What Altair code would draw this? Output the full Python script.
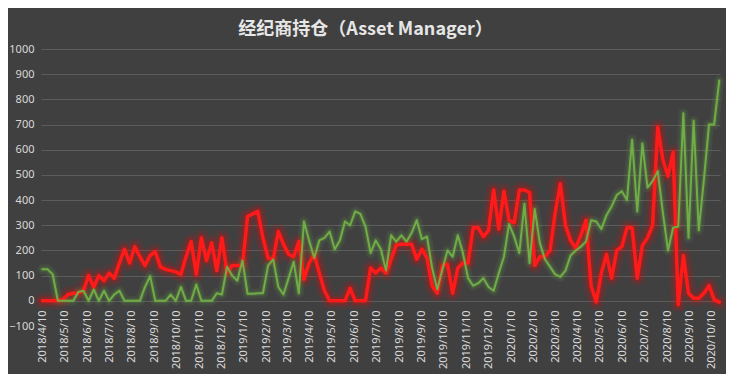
import altair as alt
import pandas as pd

# weekly dates (CFTC reports, Tuesdays)
start_date = "2018-04-10"
n_weeks = 133

red_values = [
    0, 0, 0, 0, 5, 25, 30, 30, 40, 100,
    55, 100, 80, 110, 90, 150, 205, 150, 215, 175,
    140, 180, 195, 135, 125, 120, 115, 105, 175, 235,
    105, 250, 160, 230, 120, 250, 110, 140, 140, 140,
    335, 345, 355, 250, 170, 165, 275, 225, 185, 175,
    235, 85, 150, 185, 110, 40, 0, 0, 0, 0,
    50, 0, 0, 0, 130, 110, 130, 110, 165, 222,
    225, 225, 225, 165, 205, 170, 60, 30, 140, 145,
    30, 130, 150, 150, 290, 290, 255, 280, 440, 285,
    435, 320, 310, 440, 440, 430, 140, 175, 175, 200,
    350, 465, 300, 240, 210, 260, 320, 60, -5, 110,
    185, 90, 200, 215, 290, 290, 90, 220, 250, 300,
    690, 560, 495, 590, -15, 180, 30, 10, 10, 30,
    60, 5, -5,
]

green_values = [
    125, 125, 105, 0, 0, 0, 0, 35, 40, 0,
    45, 0, 40, 0, 25, 40, 0, 0, 0, 0,
    55, 98, 0, 0, 0, 25, 0, 55, 0, 0,
    65, 0, 0, 0, 30, 25, 135, 100, 80, 160,
    28, 28, 30, 30, 140, 165, 55, 25, 90, 155,
    30, 315, 240, 170, 240, 250, 275, 205, 240, 315,
    300, 355, 345, 295, 190, 240, 205, 120, 260, 235,
    260, 235, 270, 320, 245, 255, 130, 45, 125, 200,
    175, 260, 190, 90, 60, 70, 90, 55, 40, 110,
    175, 305, 255, 190, 385, 150, 365, 230, 165, 135,
    105, 95, 120, 180, 200, 215, 235, 320, 315, 285,
    340, 375, 420, 435, 400, 640, 355, 625, 450, 475,
    515, 350, 200, 290, 295, 745, 250, 715, 280, 480,
    700, 700, 875,
]

y_ticks = [-100, 0, 100, 200, 300, 400, 500, 600, 700, 800, 900, 1000]
title_text = "经纪商持仓（Asset Manager）"

dates = pd.date_range(start_date, periods=n_weeks, freq="7D")
date_str = [d.strftime("%Y/%m/%d 00:00") for d in dates]

rows = []
for d, v in zip(date_str, red_values):
    rows.append({"date": d, "value": v, "series": "red"})
for d, v in zip(date_str, green_values):
    rows.append({"date": d, "value": v, "series": "green"})
df = pd.DataFrame(rows)

# month ticks on the 10th
tick_dates = pd.date_range("2018-04-01", "2020-10-01", freq="MS") + pd.Timedelta(days=9)
x_ticks = [alt.DateTime(year=d.year, month=d.month, date=d.day) for d in tick_dates]

W, H = 679, 277
axis_offset = -round(H * 100 / 1100)

x_enc = alt.X(
    "date:T",
    scale=alt.Scale(domain=[alt.DateTime(year=2018, month=4, date=8),
                            alt.DateTime(year=2020, month=10, date=21)]),
    axis=alt.Axis(
        values=x_ticks, format="%Y/%-m/%-d", labelAngle=270, labelAlign="right",
        labelBaseline="middle", labelPadding=9, offset=axis_offset,
        grid=False, ticks=False, tickSize=0, domain=False, title=None,
        labelColor="#d9d9d9", labelFont="Noto Sans", labelFontSize=11,
        labelOverlap=False, labelBound=False,
    ),
)
y_enc = alt.Y(
    "value:Q",
    scale=alt.Scale(domain=[-100, 1000], nice=False, zero=False),
    axis=alt.Axis(
        values=y_ticks, format="d", grid=True, ticks=False, tickSize=0,
        domain=False, title=None,
        gridColor=alt.condition("datum.value == -100", alt.value("transparent"), alt.value("#5c5c5c")),
        gridWidth=1, labelPadding=7,
        labelColor="#d9d9d9", labelFont="Noto Sans", labelFontSize=11,
    ),
)

base = alt.Chart(df).encode(x=x_enc, y=y_enc)

def line(series, color, width, opacity):
    return base.transform_filter(alt.datum.series == series).mark_line(
        color=color, strokeWidth=width, opacity=opacity,
        strokeJoin="round", strokeCap="round",
    )

chart = alt.layer(
    line("red", "#ff0000", 16, 0.10),
    line("red", "#ff0000", 9, 0.22),
    line("green", "#70ad47", 10, 0.10),
    line("green", "#70ad47", 5, 0.20),
    line("red", "#ff1a1a", 3.5, 1.0),
    line("green", "#70ad47", 2, 1.0),
).properties(
    width=W, height=H,
    title=alt.TitleParams(
        text=title_text, fontSize=18, fontWeight="bold", font="Noto Sans CJK SC",
        color="#e6e6e6", anchor="middle", offset=4, dx=-15,
    ),
    autosize=alt.AutoSizeParams(type="none"),
    padding={"left": 33, "top": 41, "right": 6, "bottom": 48},
).configure(
    background="#404040",
).configure_view(
    stroke=None,
)

chart.save("out.html", embed_options={"renderer": "svg", "actions": False})
